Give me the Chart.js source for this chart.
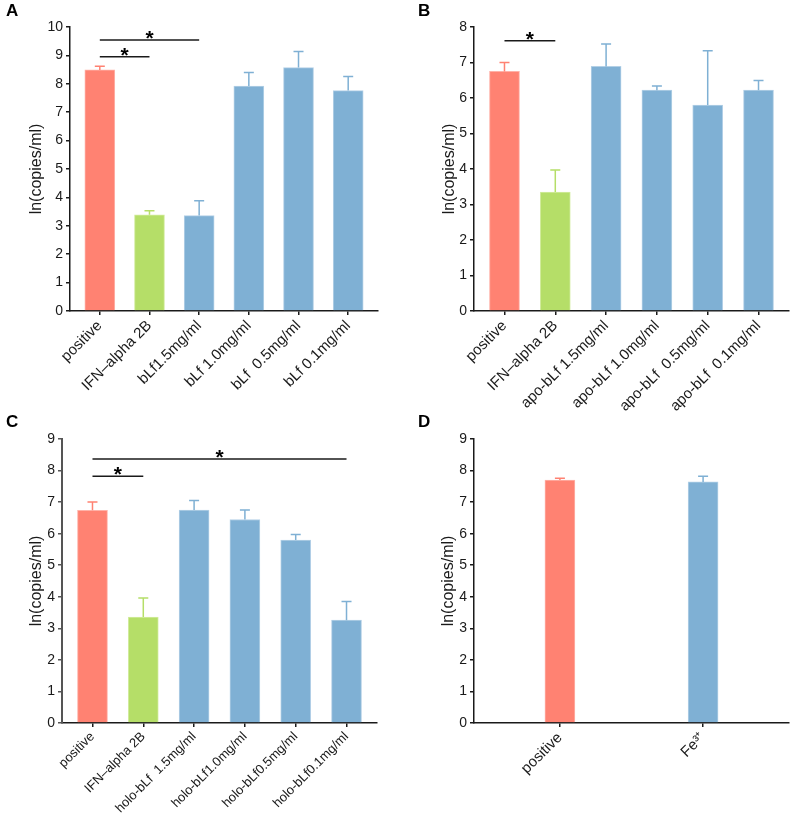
<!DOCTYPE html>
<html>
<head>
<meta charset="utf-8">
<script src="https://cdn.jsdelivr.net/npm/chart.js@4"></script>
<style>
  body { margin: 0; background: #fff; }
  #wrap { position: relative; width: 799px; height: 816px; overflow: hidden; }
  canvas { position: absolute; }
  .tag { position: absolute; font: bold 17px 'Liberation Sans', Arial, sans-serif; line-height: 18px; color: #000; }
</style>
</head>
<body>
<div id="wrap">
  <canvas id="chartD" width="399" height="406" style="left:400px;top:410px"></canvas>
  <canvas id="chartC" width="400" height="406" style="left:0;top:410px"></canvas>
  <canvas id="chartA" width="400" height="410" style="left:0;top:0"></canvas>
  <canvas id="chartB" width="399" height="413" style="left:400px;top:0"></canvas>
  <div class="tag" style="left:6px;top:2px">A</div>
  <div class="tag" style="left:418px;top:2px">B</div>
  <div class="tag" style="left:6px;top:413px">C</div>
  <div class="tag" style="left:418px;top:413px">D</div>
</div>
<script>
// panel A - bLf
const labelsA = ['positive', 'IFN\u2013alpha 2B', 'bLf1.5mg/ml', 'bLf 1.0mg/ml', 'bLf  0.5mg/ml', 'bLf 0.1mg/ml'];
const meansA = [8.49, 3.39, 3.36, 7.92, 8.57, 7.76];
const errTopA = [8.62, 3.53, 3.88, 8.40, 9.14, 8.26];
const sigA = [[0, 1, 8.95], [0, 2, 9.54]];

// panel B - apo-bLf
const labelsB = ['positive', 'IFN\u2013alpha 2B', 'apo-bLf 1.5mg/ml', 'apo-bLf 1.0mg/ml', 'apo-bLf  0.5mg/ml', 'apo-bLf  0.1mg/ml'];
const meansB = [6.75, 3.35, 6.89, 6.22, 5.80, 6.22];
const errTopB = [7.00, 3.97, 7.52, 6.34, 7.33, 6.49];
const sigB = [[0, 1, 7.61]];

// panel C - holo-bLf
const labelsC = ['positive', 'IFN\u2013alpha 2B', 'holo-bLf  1.5mg/ml', 'holo-bLf1.0mg/ml', 'holo-bLf0.5mg/ml', 'holo-bLf0.1mg/ml'];
const meansC = [6.74, 3.36, 6.75, 6.45, 5.80, 3.26];
const errTopC = [7.00, 3.96, 7.05, 6.75, 5.97, 3.85];
const sigC = [[0, 1, 7.82], [0, 5, 8.37]];

// panel D - Fe3+
const labelsD = ['positive', 'Fe\u00b3\u207a'];
const meansD = [7.70, 7.64];
const errTopD = [7.76, 7.82];
const sigD = [];

const RED = '#ff8272', GREEN = '#b5de68', BLUE = '#7fb0d4';
const EDGE = { [RED]: '#ffb2a8', [GREEN]: '#d3ec9f', [BLUE]: '#b3d0e6' };
const INK = '#1a1a1a';

Chart.defaults.font.family = "'Liberation Sans', Arial, sans-serif";
Chart.defaults.color = INK;

// error bars (upper only) and significance brackets, placed via the chart scales
const annotate = {
    id: 'annotate',
    afterDatasetsDraw(chart, args, opts) {
        const { ctx, scales: { x, y } } = chart;
        const bars = chart.getDatasetMeta(0).data;
        ctx.save();
        ctx.lineWidth = 1.5;
        bars.forEach((bar, i) => {
            const top = y.getPixelForValue(opts.errTop[i]);
            ctx.strokeStyle = opts.colors[i];
            ctx.beginPath();
            ctx.moveTo(bar.x, bar.y);
            ctx.lineTo(bar.x, top);
            ctx.moveTo(bar.x - 5, top);
            ctx.lineTo(bar.x + 5, top);
            ctx.stroke();
        });
        ctx.strokeStyle = INK;
        ctx.fillStyle = '#000';
        ctx.font = "bold 21px 'Liberation Sans', Arial, sans-serif";
        ctx.textAlign = 'center';
        ctx.textBaseline = 'alphabetic';
        opts.sig.forEach(([a, b, v]) => {
            const x0 = x.getPixelForValue(a), x1 = x.getPixelForValue(b);
            const yy = y.getPixelForValue(v);
            ctx.beginPath();
            ctx.moveTo(x0, yy);
            ctx.lineTo(x1, yy);
            ctx.stroke();
            ctx.fillText('*', (x0 + x1) / 2, yy + 5);
        });
        ctx.restore();
    }
};

function makePanel(id, labels, means, errTop, sig, colors, yMax, box) {
    new Chart(document.getElementById(id), {
        type: 'bar',
        data: {
            datasets: [{
                data: means.map((v, i) => ({ x: i, y: v })),
                backgroundColor: colors,
                borderColor: colors.map(c => EDGE[c]),
                borderWidth: 1,
                barThickness: 30
            }]
        },
        options: {
            responsive: false,
            animation: false,
            layout: { padding: { left: box.left, top: box.top, right: box.right, bottom: 0 } },
            plugins: {
                legend: { display: false },
                tooltip: { enabled: false },
                annotate: { errTop, sig, colors }
            },
            scales: {
                x: {
                    type: 'linear',
                    offset: false,
                    min: -0.6,
                    max: labels.length - 0.4,
                    afterBuildTicks: s => { s.ticks = s.ticks.filter(t => Number.isInteger(t.value)); },
                    afterFit: s => { s.height = box.xHeight; },
                    grid: { offset: false, drawOnChartArea: false, tickLength: 4, color: INK, lineWidth: 1.5 },
                    border: { color: INK, width: 1.5 },
                    ticks: {
                        stepSize: 1,
                        autoSkip: false,
                        minRotation: 45,
                        maxRotation: 45,
                        padding: 2,
                        font: { size: box.xFont },
                        callback: v => labels[v]
                    }
                },
                y: {
                    min: 0,
                    max: yMax,
                    afterFit: s => { s.width = box.yWidth; },
                    grid: { drawOnChartArea: false, tickLength: 4, color: box.yAxis || INK, lineWidth: 1.5 },
                    border: { color: box.yAxis || INK, width: box.yAxis ? 2 : 1.5 },
                    ticks: { stepSize: 1, padding: 3, font: { size: 14 }, color: INK },
                    title: { display: true, text: 'ln(copies/ml)', font: { size: 16 }, padding: { top: 4, bottom: 4 } }
                }
            }
        },
        plugins: [annotate]
    });
}

const colorsA = [RED, GREEN, BLUE, BLUE, BLUE, BLUE];
const colorsD = [RED, BLUE];

makePanel('chartA', labelsA, meansA, errTopA, sigA, colorsA, 10,
    { left: 23, top: 27, right: 22, yWidth: 47, xHeight: 99, xFont: 15 });
makePanel('chartB', labelsB, meansB, errTopB, sigB, colorsA, 8,
    { left: 36, top: 27, right: 10, yWidth: 38, xHeight: 102, xFont: 15 });
makePanel('chartC', labelsC, meansC, errTopC, sigC, colorsA, 9,
    { left: 23, top: 29, right: 23, yWidth: 39, xHeight: 93, xFont: 13, yAxis: '#555' });
makePanel('chartD', labelsD, meansD, errTopD, sigD, colorsD, 9,
    { left: 35, top: 29, right: 10, yWidth: 39, xHeight: 93, xFont: 15 });
</script>
</body>
</html>
